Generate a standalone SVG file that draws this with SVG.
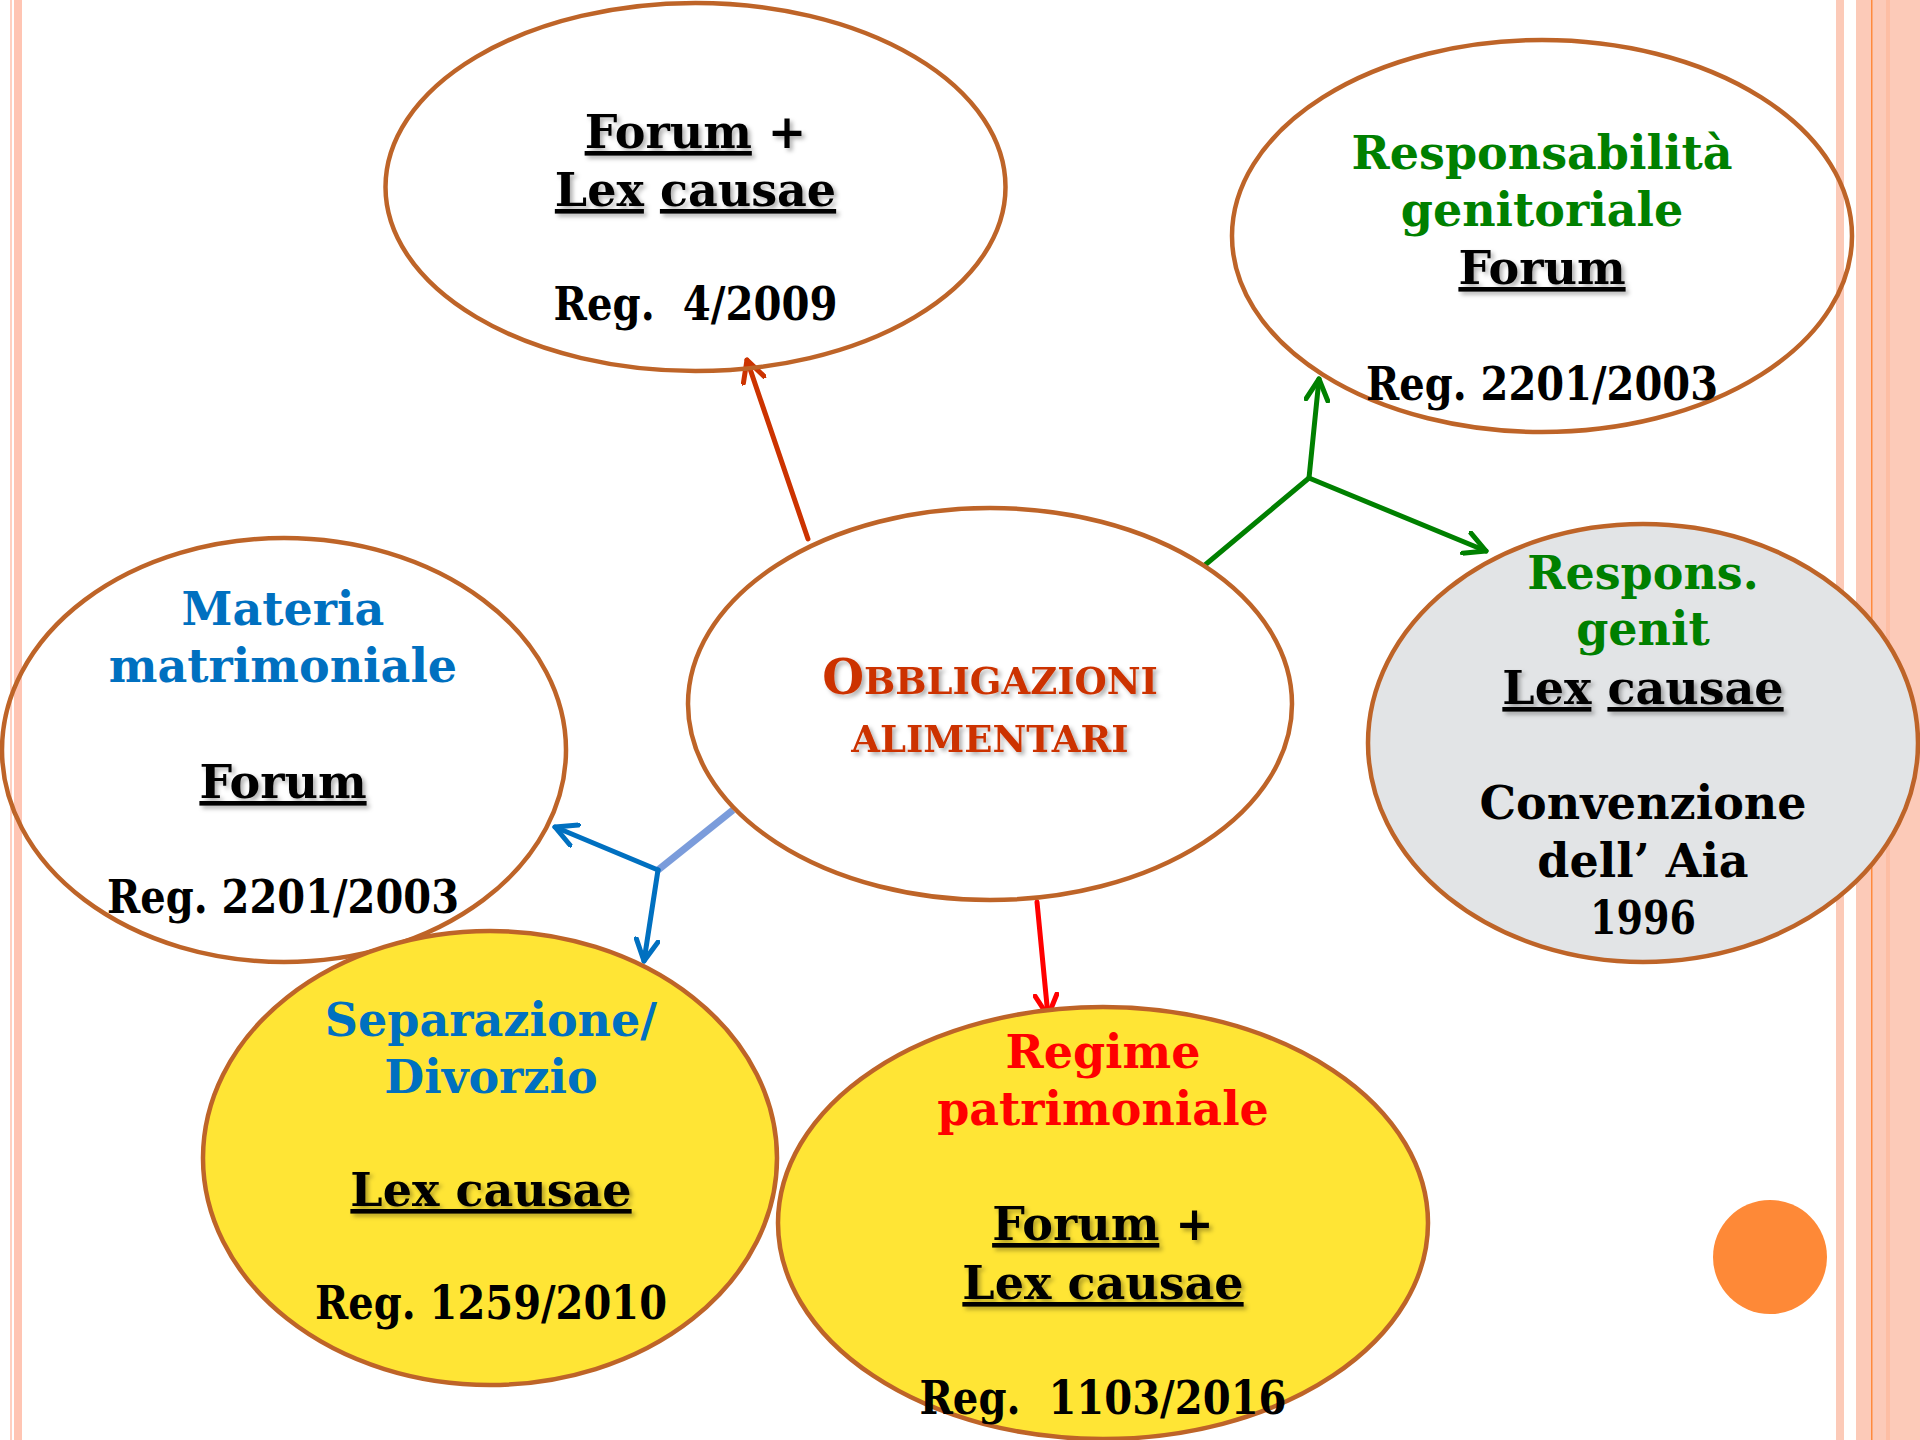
<svg xmlns="http://www.w3.org/2000/svg" width="1920" height="1440" viewBox="0 0 1920 1440">
<style>
.t{font-family:"DejaVu Serif","Liberation Serif",serif;font-weight:bold;font-size:46px;text-anchor:middle}
.k{fill:#000}
.g{fill:#008000}
.b{fill:#0070C0}
.r{fill:#FF0000}
.o{fill:#CC3300}
.u{text-decoration:underline}
.sh{filter:url(#sh)}
.node{stroke:#BE6428;stroke-width:4.5}
.c{fill:none;stroke-width:5;stroke-linecap:round}
.ah{fill:none;stroke-width:5;stroke-linecap:round;stroke-linejoin:round}
</style>
<defs>
<filter id="sh" x="-10%" y="-20%" width="130%" height="160%">
<feDropShadow dx="3" dy="3" stdDeviation="2" flood-color="#000" flood-opacity="0.3"/>
</filter>
<marker id="aO" viewBox="0 0 26 26" refX="23" refY="13" markerWidth="26" markerHeight="26" markerUnits="userSpaceOnUse" orient="auto"><path class="ah" d="M2,2 L23,13 L2,24" stroke="#CC3300"/></marker>
<marker id="aG" viewBox="0 0 26 26" refX="23" refY="13" markerWidth="26" markerHeight="26" markerUnits="userSpaceOnUse" orient="auto"><path class="ah" d="M2,2 L23,13 L2,24" stroke="#008000"/></marker>
<marker id="aB" viewBox="0 0 26 26" refX="23" refY="13" markerWidth="26" markerHeight="26" markerUnits="userSpaceOnUse" orient="auto"><path class="ah" d="M2,2 L23,13 L2,24" stroke="#0070C0"/></marker>
<marker id="aR" viewBox="0 0 26 26" refX="23" refY="13" markerWidth="26" markerHeight="26" markerUnits="userSpaceOnUse" orient="auto"><path class="ah" d="M2,2 L23,13 L2,24" stroke="#FF0000"/></marker>
</defs>
<rect width="1920" height="1440" fill="#FFFFFF"/>
<g id="border">
<rect x="10" y="0" width="2" height="1440" fill="#FFD0C0"/>
<rect x="14" y="0" width="8" height="1440" fill="#FFC5B3"/>
<rect x="1836" y="0" width="8" height="1440" fill="#FCCAB8"/>
<rect x="1856" y="0" width="64" height="1440" fill="#FCCAB8"/>
<rect x="1871" y="0" width="1.5" height="1440" fill="#FF8A3C"/>
<rect x="1886" y="0" width="4" height="1440" fill="#FDBEA4"/>
</g>
<g id="connectors">
<line class="c" x1="808" y1="539" x2="747" y2="360" stroke="#CC3300" marker-end="url(#aO)"/>
<polyline class="c" points="1205,565 1309,478" stroke="#008000"/>
<line class="c" x1="1309" y1="478" x2="1319" y2="379" stroke="#008000" marker-end="url(#aG)"/>
<line class="c" x1="1309" y1="478" x2="1486" y2="551" stroke="#008000" marker-end="url(#aG)"/>
<line x1="733" y1="810" x2="658" y2="870" stroke="#7B9CDB" stroke-width="7"/>
<line class="c" x1="658" y1="870" x2="555" y2="827" stroke="#0070C0" marker-end="url(#aB)"/>
<line class="c" x1="658" y1="870" x2="644" y2="961" stroke="#0070C0" marker-end="url(#aB)"/>
<line class="c" x1="1037" y1="902" x2="1048" y2="1016" stroke="#FF0000" marker-end="url(#aR)"/>
</g>
<g id="n-top">
<ellipse class="node" cx="695.5" cy="187" rx="310" ry="184" fill="none"/>
<text class="t k" x="695.5" y="148"><tspan class="u sh">Forum</tspan><tspan class="sh"> +</tspan></text>
<text class="t k" x="695.5" y="206"><tspan class="u sh">Lex</tspan><tspan> </tspan><tspan class="u sh">causae</tspan></text>
<text class="t k" x="695.5" y="320" xml:space="preserve" textLength="284" lengthAdjust="spacingAndGlyphs">Reg.  4/2009</text>
</g>
<g id="n-resp">
<ellipse class="node" cx="1542" cy="236" rx="310" ry="196" fill="none"/>
<text class="t g" x="1542" y="169">Responsabilità</text>
<text class="t g" x="1542" y="226">genitoriale</text>
<text class="t k u sh" x="1542" y="284">Forum</text>
<text class="t k" x="1542" y="400" textLength="352" lengthAdjust="spacingAndGlyphs">Reg. 2201/2003</text>
</g>
<g id="n-center">
<ellipse class="node" cx="990" cy="704" rx="302" ry="196" fill="#FFFFFF"/>
<text class="t o sh" x="990" y="694"><tspan style="font-size:48px">O</tspan><tspan style="font-size:37px">BBLIGAZIONI</tspan></text>
<text class="t o sh" x="990" y="752" style="font-size:37px">ALIMENTARI</text>
</g>
<g id="n-genit">
<ellipse class="node" cx="1643" cy="743" rx="275" ry="219" fill="#E2E4E6"/>
<text class="t g" x="1643" y="589">Respons.</text>
<text class="t g" x="1643" y="645">genit</text>
<text class="t k" x="1643" y="704"><tspan class="u sh">Lex</tspan><tspan> </tspan><tspan class="u sh">causae</tspan></text>
<text class="t k" x="1643" y="819">Convenzione</text>
<text class="t k" x="1643" y="877">dell’ Aia</text>
<text class="t k" x="1643" y="934" textLength="106" lengthAdjust="spacingAndGlyphs">1996</text>
</g>
<g id="n-materia">
<ellipse class="node" cx="284" cy="750" rx="282" ry="212" fill="none"/>
<text class="t b" x="283" y="625">Materia</text>
<text class="t b" x="283" y="682">matrimoniale</text>
<text class="t k u sh" x="283" y="798">Forum</text>
<text class="t k" x="283" y="913" textLength="352" lengthAdjust="spacingAndGlyphs">Reg. 2201/2003</text>
</g>
<g id="n-separazione">
<ellipse class="node" cx="490" cy="1158" rx="287" ry="227" fill="#FFE535"/>
<text class="t b" x="491" y="1036">Separazione/</text>
<text class="t b" x="491" y="1093">Divorzio</text>
<text class="t k u sh" x="491" y="1206">Lex causae</text>
<text class="t k" x="491" y="1319" textLength="352" lengthAdjust="spacingAndGlyphs">Reg. 1259/2010</text>
</g>
<g id="n-regime">
<ellipse class="node" cx="1103" cy="1223" rx="325" ry="216" fill="#FFE535"/>
<text class="t r" x="1103" y="1068">Regime</text>
<text class="t r" x="1103" y="1125">patrimoniale</text>
<text class="t k" x="1103" y="1240"><tspan class="u sh">Forum</tspan><tspan class="sh"> +</tspan></text>
<text class="t k u sh" x="1103" y="1299">Lex causae</text>
<text class="t k" x="1103" y="1414" xml:space="preserve" textLength="367" lengthAdjust="spacingAndGlyphs">Reg.  1103/2016</text>
</g>
<circle id="dot" cx="1770" cy="1257" r="57" fill="#FE8937"/>
</svg>
